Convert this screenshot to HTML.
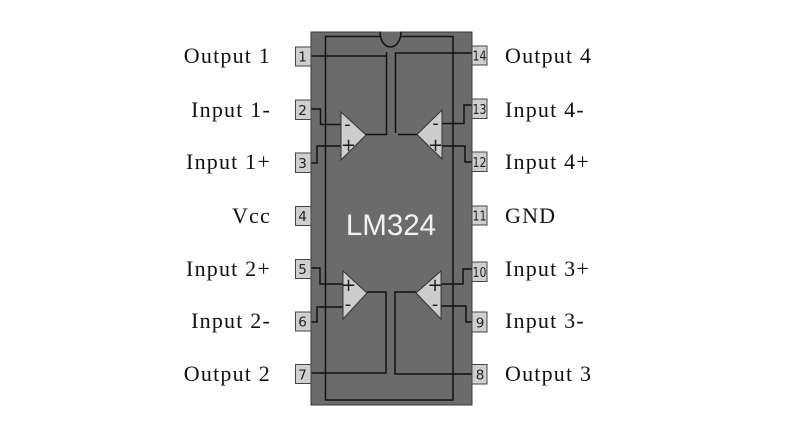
<!DOCTYPE html>
<html>
<head>
<meta charset="utf-8">
<style>
  html, body { margin:0; padding:0; background:#ffffff; }
  body { width:792px; height:436px; overflow:hidden; }
  svg { display:block; }
  .lbl { font-family:"Liberation Serif", serif; font-size:22px; letter-spacing:1.2px; fill:#111; }
  .pn { font-family:"DejaVu Sans", "Liberation Sans", sans-serif; font-size:13.5px; fill:#222; }
  .sg { font-family:"DejaVu Sans", "Liberation Sans", sans-serif; font-size:18px; fill:#1a1a1a; }
</style>
</head>
<body>
<svg width="792" height="436" viewBox="0 0 792 436" xmlns="http://www.w3.org/2000/svg">
  <!-- chip body -->
  <rect x="311" y="32" width="161" height="373" fill="#6b6b6b" stroke="#3a3a3a" stroke-width="1"/>
  <!-- inner rectangle -->
  <rect x="325.5" y="36.5" width="127.5" height="363.5" fill="none" stroke="#111" stroke-width="1.5"/>
  <!-- notch -->
  <path d="M380,31.5 C380,41 385,47 390.5,47 C396,47 401,41 401,31.5 Z" fill="#6b6b6b" stroke="none"/>
  <path d="M380,31.5 C380,41 385,47 390.5,47 C396,47 401,41 401,31.5" fill="none" stroke="#111" stroke-width="1.5"/>

  <!-- wires -->
  <g fill="none" stroke="#111" stroke-width="1.5">
    <path d="M311,56 H386.5"/>
    <path d="M386.5,52 V134.5 H366"/>
    <path d="M472,53 H395.5 V133"/>
    <path d="M398,134.5 H417"/>
    <path d="M311,109 H320.5 V124.5 H341"/>
    <path d="M311,163 H317 V146 H341"/>
    <path d="M472,105 H464 V123.5 H442"/>
    <path d="M442,146 H465 V162 H472"/>
    <path d="M311,268 H320 V284 H343"/>
    <path d="M311,322 H317 V307 H343"/>
    <path d="M367,292 H386 V373 H311"/>
    <path d="M472,269 H463 V284 H441"/>
    <path d="M441,306 H466 V322 H472"/>
    <path d="M416,292 H395 V374 H472"/>
  </g>

  <!-- op-amps -->
  <g fill="#cdcdcd" stroke="#333" stroke-width="1">
    <polygon points="341,112 341,160 366,135"/>
    <polygon points="442,110 442,159 417,134.5"/>
    <polygon points="343,271 343,319 367,293"/>
    <polygon points="441,271 441,319 416,293"/>
  </g>
  <g class="sg" text-anchor="middle">
    <text x="347.5" y="130">-</text>
    <text x="348.5" y="151">+</text>
    <text x="435.5" y="129">-</text>
    <text x="435.5" y="151">+</text>
    <text x="348.5" y="291">+</text>
    <text x="348" y="310">-</text>
    <text x="435" y="291">+</text>
    <text x="435" y="310">-</text>
  </g>

  <!-- LM324 -->
  <text x="391" y="235" text-anchor="middle" font-family="'Liberation Sans', sans-serif" font-size="29.5" fill="#f2f2f2">LM324</text>

  <!-- pins -->
  <g fill="#cfcfcf" stroke="#444" stroke-width="1">
    <rect x="295.5" y="47" width="15.5" height="19"/>
    <rect x="295.5" y="100" width="15.5" height="19.5"/>
    <rect x="295.5" y="153" width="15.5" height="19.5"/>
    <rect x="295.5" y="206.5" width="15.5" height="19"/>
    <rect x="295.5" y="259.5" width="15.5" height="19"/>
    <rect x="295.5" y="312" width="15.5" height="19"/>
    <rect x="295.5" y="364.5" width="15.5" height="19"/>

    <rect x="472" y="46" width="15" height="19"/>
    <rect x="472" y="99" width="15" height="19.5"/>
    <rect x="472" y="152" width="15" height="19.5"/>
    <rect x="472" y="206" width="15" height="19"/>
    <rect x="472" y="262" width="15" height="19.5"/>
    <rect x="472" y="312" width="15" height="20"/>
    <rect x="472" y="364.5" width="15" height="19.5"/>
  </g>
  <g class="pn" text-anchor="middle">
    <text x="302.5" y="61.5">1</text>
    <text x="302.5" y="115">2</text>
    <text x="302.5" y="168">3</text>
    <text x="302.5" y="221">4</text>
    <text x="302.5" y="274">5</text>
    <text x="302.5" y="326.5">6</text>
    <text x="302.5" y="379.5">7</text>

    <text x="472.5" y="60.5" text-anchor="start" textLength="14" lengthAdjust="spacingAndGlyphs">14</text>
    <text x="472.5" y="114" text-anchor="start" textLength="14" lengthAdjust="spacingAndGlyphs">13</text>
    <text x="472.5" y="167" text-anchor="start" textLength="14" lengthAdjust="spacingAndGlyphs">12</text>
    <text x="472.5" y="220.5" text-anchor="start" textLength="14" lengthAdjust="spacingAndGlyphs">11</text>
    <text x="472.5" y="277" text-anchor="start" textLength="14" lengthAdjust="spacingAndGlyphs">10</text>
    <text x="480" y="327.5">9</text>
    <text x="480" y="379.5">8</text>
  </g>

  <!-- labels -->
  <g class="lbl" text-anchor="end">
    <text x="271" y="63">Output 1</text>
    <text x="271" y="117">Input 1-</text>
    <text x="271" y="169">Input 1+</text>
    <text x="271" y="223">Vcc</text>
    <text x="271" y="276">Input 2+</text>
    <text x="271" y="328">Input 2-</text>
    <text x="271" y="381">Output 2</text>
  </g>
  <g class="lbl">
    <text x="505" y="63">Output 4</text>
    <text x="505" y="117">Input 4-</text>
    <text x="505" y="169">Input 4+</text>
    <text x="505" y="223">GND</text>
    <text x="505" y="276">Input 3+</text>
    <text x="505" y="328">Input 3-</text>
    <text x="505" y="381">Output 3</text>
  </g>
</svg>
</body>
</html>
